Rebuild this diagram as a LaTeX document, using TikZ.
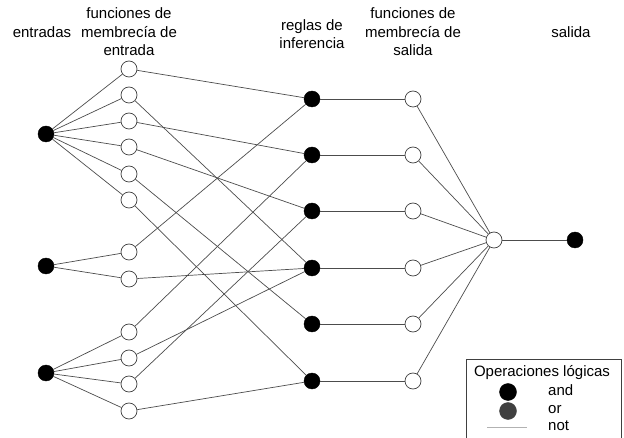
\documentclass[tikz,border=0pt]{standalone}
\usepackage{fontspec}
\setmainfont{Liberation Sans}
\begin{document}
\begin{tikzpicture}[x=1pt,y=-1pt,
  blk/.style={circle,fill=black,draw=black,minimum size=16pt,inner sep=0pt},
  wht/.style={circle,fill=white,draw=black!75,line width=0.7pt,minimum size=16pt,inner sep=0pt},
  link/.style={draw=black!70,line width=0.7pt},
  lbl/.style={font=\fontsize{15}{18.5}\selectfont,align=center,inner sep=0pt},
  leg/.style={font=\fontsize{15}{18.5}\selectfont,inner sep=0pt,text height=10.5pt,text depth=3pt}]
\useasboundingbox (0,0) rectangle (624,438);
% headers
\node[lbl] (h1) at (42,32) {entradas};
\node[lbl] (h2) at (129,32) {funciones de\\membrecía de\\entrada};
\node[lbl] (h3) at (312,34) {reglas de\\inferencia};
\node[lbl] (h4) at (413,32) {funciones de\\membrecía de\\salida};
\node[lbl] (h5) at (571,32) {salida};
% inputs
\node[blk] (i1) at (46,134) {};
\node[blk] (i2) at (46,266) {};
\node[blk] (i3) at (46,373) {};
% input membership functions
\foreach \k/\y in {1/69,2/95,3/121,4/147,5/174,6/200,7/252,8/279,9/332,10/358,11/384,12/411}
  \node[wht] (m\k) at (129,\y) {};
% rules and output membership functions
\foreach \k/\y in {1/99,2/155,3/211,4/268,5/324,6/381}{
  \node[blk] (r\k) at (312,\y) {};
  \node[wht] (o\k) at (413,\y) {};
}
\node[wht] (agg) at (494,240) {};
\node[blk] (out) at (575,240) {};
% links
\foreach \k in {1,...,6} \draw[link] (i1) -- (m\k);
\foreach \k in {7,8} \draw[link] (i2) -- (m\k);
\foreach \k in {9,...,12} \draw[link] (i3) -- (m\k);
\foreach \a/\b in {1/1,2/4,3/2,4/3,5/5,6/6,7/1,8/4,9/2,10/4,11/3,12/6}
  \draw[link] (m\a) -- (r\b);
\foreach \k in {1,...,6}{
  \draw[link] (r\k) -- (o\k);
  \draw[link] (o\k) -- (agg);
}
\draw[link] (agg) -- (out);
% legend
\draw[black!75,line width=0.7pt] (466,440) -- (466,359) -- (621,359) -- (621,440);
\node[leg] (lt) at (542,373) {Operaciones lógicas};
\node[circle,fill=black,draw=black,minimum size=17pt,inner sep=0pt] (la) at (508,392) {};
\node[circle,fill=black!75,draw=black!75,minimum size=17pt,inner sep=0pt] (lo) at (508,411) {};
\coordinate (ln1) at (487,427);
\coordinate (ln2) at (527,427);
\draw[gray!60,line width=0.7pt] (ln1) -- (ln2);
\node[leg,anchor=west] (ta) at (548,392) {and};
\node[leg,anchor=west] (to) at (548,410) {or};
\node[leg,anchor=west] (tn) at (548,427) {not};
\end{tikzpicture}
\end{document}
